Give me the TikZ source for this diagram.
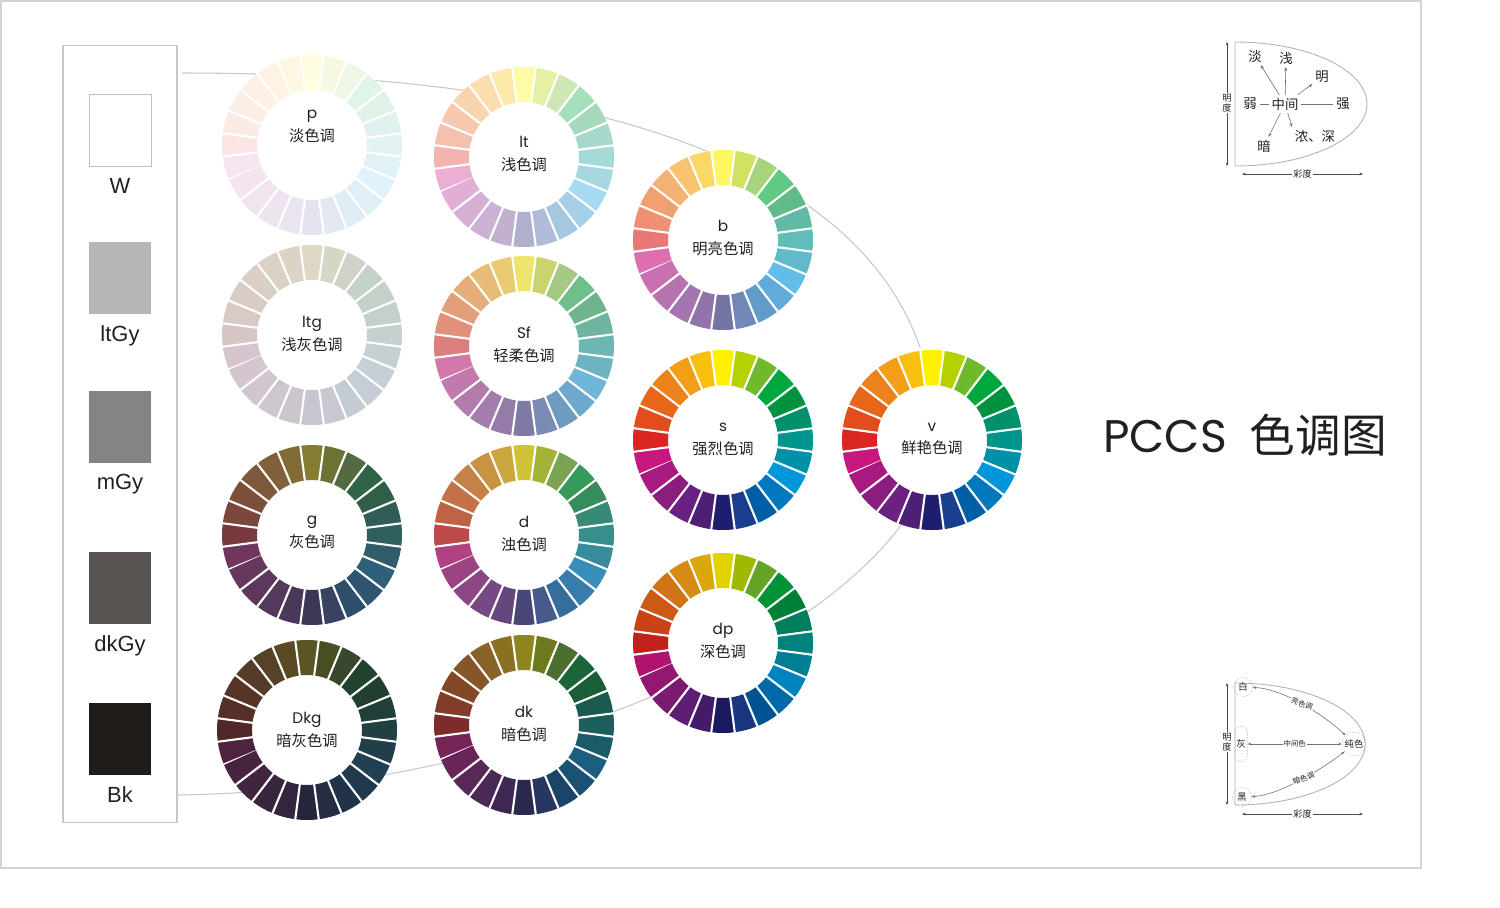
\documentclass[tikz,border=0pt]{standalone}
\usepackage{fontspec}
\setmainfont{Noto Sans CJK SC}
\newfontfamily\lat{Poppins}
\newfontfamily\chipfont{Liberation Sans}
\usetikzlibrary{arrows.meta,positioning}
\definecolor{v1}{HTML}{C8177F}\definecolor{v2}{HTML}{DA2520}\definecolor{v3}{HTML}{E34D1B}\definecolor{v4}{HTML}{E8661A}
\definecolor{v5}{HTML}{EC821B}\definecolor{v6}{HTML}{F39E17}\definecolor{v7}{HTML}{F8BF0C}\definecolor{v8}{HTML}{FFF000}
\definecolor{v9}{HTML}{B5D100}\definecolor{v10}{HTML}{6FBA2C}\definecolor{v11}{HTML}{00A73C}\definecolor{v12}{HTML}{00923F}
\definecolor{v13}{HTML}{00906A}\definecolor{v14}{HTML}{00958D}\definecolor{v15}{HTML}{0090A8}\definecolor{v16}{HTML}{0096DA}
\definecolor{v17}{HTML}{0078C0}\definecolor{v18}{HTML}{005EA7}\definecolor{v19}{HTML}{1B3F8E}\definecolor{v20}{HTML}{1E1E6E}
\definecolor{v21}{HTML}{4D1F77}\definecolor{v22}{HTML}{6A2181}\definecolor{v23}{HTML}{8B1D7F}\definecolor{v24}{HTML}{A81A80}
\definecolor{ink}{HTML}{231F20}
\definecolor{rule}{HTML}{D3D3D3}
\definecolor{ltgbase}{HTML}{D8D6D6}
\definecolor{sfbase}{HTML}{DCD8D8}
\definecolor{dbase}{HTML}{8A8388}
\definecolor{gbase}{HTML}{8A8490}
\definecolor{dkbase}{HTML}{6E6A74}
\definecolor{dkgbase}{HTML}{5C5660}
\tikzset{
frame/.style={draw=rule,line width=1.1pt},
outline/.style={draw=black!22,line width=0.6pt},
panel/.style={draw=black!22,line width=0.6pt,minimum width=2.28cm,minimum height=15.54cm},
chip/.style={minimum width=1.24cm,minimum height=1.44cm,inner sep=0pt},
chiplabel/.style={text=ink,font=\chipfont\fontsize{12.5}{14}\selectfont},
ring/.style={line width=0.7cm},
gap/.style={draw=white,line width=0.042cm},
tonelabel/.style={align=center,text=ink,font=\fontsize{8.7}{13}\selectfont},
hint/.style={text=ink,inner sep=1.5pt,font=\fontsize{7.6}{9}\selectfont},
ray/.style={draw=black!55,line width=0.35pt,-{Stealth[length=2.2pt,width=1.8pt]}},
spoke/.style={draw=black!55,line width=0.35pt},
dshape/.style={draw=black!30,line width=0.5pt},
axis/.style={draw=black!70,line width=0.35pt,{Stealth[length=2pt,width=1.6pt]}-{Stealth[length=2pt,width=1.6pt]}},
axislabel/.style={fill=white,inner sep=0.6pt,text=ink,align=center,font=\fontsize{5.2}{6}\selectfont},
spot/.style={circle,draw=black!25,dash pattern=on 1pt off 0.8pt,line width=0.3pt,inner sep=0pt,text=ink,font=\fontsize{5.3}{6}\selectfont},
capsule/.style={draw=black!25,dash pattern=on 1pt off 0.8pt,line width=0.3pt,rounded corners=0.12cm,minimum width=0.26cm,minimum height=0.7cm,inner sep=0pt,text=ink,font=\fontsize{5.3}{6}\selectfont},
twoway/.style={draw=black!55,line width=0.35pt,{Stealth[length=2pt,width=1.6pt]}-{Stealth[length=2pt,width=1.6pt]}},
arclabel/.style={fill=white,inner sep=0.5pt,text=ink,font=\fontsize{4.2}{5}\selectfont},
title/.style={text=ink,font=\fontsize{26}{30}\selectfont}
}
\newcommand{\tonewheel}[3]{%
\fill[white] (#1,#2) circle[radius=90];
\foreach \i in {1,...,24}{
\draw[ring,color=v\i#3] (#1,#2) ++({15*\i-217.5}:72.5) arc[start angle={15*\i-217.5},end angle={15*\i-202.5},radius=72.5];
\draw[gap] (#1,#2) ++({15*\i-217.5}:53) -- ++({15*\i-217.5}:40);
}}

\begin{document}
\begin{tikzpicture}[x=0.02cm,y=-0.02cm,node distance=3pt]
\useasboundingbox (0,0) rectangle (1500,907);
\draw[frame] (1,1) rectangle (1421,868);
\coordinate (wend) at (182,73);
\coordinate (vtip) at (935,440);
\coordinate (bkend) at (177,795);
\draw[outline] (wend) .. controls (671,73) and (935,201) .. (vtip) .. controls (930,600) and (560,790) .. (bkend);

\node[panel] (greys) at (120,434) {};
\node[chip,draw=black!25] (wchip) at (120,130.5) {};
\node[chiplabel,below=of wchip] (wname) {W};
\node[chip,fill={rgb,255:red,183;green,182;blue,180}] (ltgychip) at (120,278) {};
\node[chiplabel,below=of ltgychip] (ltgyname) {ltGy};
\node[chip,fill={rgb,255:red,133;green,131;blue,132}] (mgychip) at (120,426.5) {};
\node[chiplabel,below=of mgychip] (mgyname) {mGy};
\node[chip,fill={rgb,255:red,90;green,85;blue,83}] (dkgychip) at (120,588) {};
\node[chiplabel,below=of dkgychip] (dkgyname) {dkGy};
\node[chip,fill={rgb,255:red,33;green,28;blue,25}] (bkchip) at (120,739) {};
\node[chiplabel,below=of bkchip] (bkname) {Bk};

\tonewheel{312}{145}{!12!white}
\node[tonelabel] (pale) at (312,126) {{\lat p}\\淡色调};
\tonewheel{524}{157}{!35!white}
\node[tonelabel] (light) at (524,154) {{\lat lt}\\浅色调};
\tonewheel{723}{240}{!62!white}
\node[tonelabel] (bright) at (723,238) {{\lat b}\\明亮色调};
\tonewheel{312}{335}{!9!ltgbase}
\node[tonelabel] (ltgrayish) at (312,334) {{\lat ltg}\\浅灰色调};
\tonewheel{524}{346}{!50!sfbase}
\node[tonelabel] (soft) at (524,345) {{\lat Sf}\\轻柔色调};
\tonewheel{723}{440}{}
\node[tonelabel] (strong) at (723,439) {{\lat s}\\强烈色调};
\tonewheel{932}{440}{}
\node[tonelabel] (vivid) at (932,439) {{\lat v}\\鲜艳色调};
\tonewheel{312}{535}{!50!black!65!gbase}
\node[tonelabel] (grayish) at (312,532) {{\lat g}\\灰色调};
\tonewheel{524}{535}{!60!dbase}
\node[tonelabel] (dull) at (524,534) {{\lat d}\\浊色调};
\tonewheel{723}{643}{!88!black}
\node[tonelabel] (deep) at (723,641) {{\lat dp}\\深色调};
\tonewheel{307}{730}{!35!black!65!dkgbase}
\node[tonelabel] (dkgrayish) at (307,730) {{\lat Dkg}\\暗灰色调};
\tonewheel{524}{725}{!60!black!75!dkbase}
\node[tonelabel] (dark) at (524,724) {{\lat dk}\\暗色调};

\node[title] (heading) at (1245,435) {{\lat PCCS}\hspace{0.5em}色调图};

\draw[dshape] (1235,42) arc[start angle=-90,end angle=90,x radius=132,y radius=62] -- cycle;
\coordinate (lumtop) at (1227,42);
\coordinate (lumbot) at (1227,166);
\draw[axis] (lumtop) -- (lumbot);
\node[axislabel] (lumname) at (1227,103) {明\\度};
\coordinate (chrl) at (1242,174);
\coordinate (chrr) at (1363,174);
\draw[axis] (chrl) -- node[axislabel] (chrname) {彩度} (chrr);
\node[hint] (mid) at (1285,104) {中间};
\node[hint] (dan) at (1255,56) {淡};
\node[hint] (qian) at (1286,58) {浅};
\node[hint] (ming) at (1322,77) {明};
\node[hint] (ruo) at (1250,104) {弱};
\node[hint] (qiang) at (1343,104) {强};
\node[hint] (an) at (1264,146) {暗};
\node[hint] (nong) at (1315,136) {浓、深};
\draw[ray] (mid) -- (dan);
\draw[ray] (mid) -- (qian);
\draw[ray] (mid) -- (ming);
\draw[ray] (mid) -- (an);
\draw[ray] (mid) -- (nong.north west);
\draw[spoke] (mid) -- (ruo);
\draw[spoke] (mid) -- (qiang);

\draw[dshape] (1235,683) arc[start angle=-90,end angle=90,x radius=130,y radius=61] -- cycle;
\coordinate (lumtop2) at (1227,683);
\coordinate (lumbot2) at (1227,805);
\draw[axis] (lumtop2) -- (lumbot2);
\node[axislabel] (lumname2) at (1227,742) {明\\度};
\coordinate (chrl2) at (1242,814);
\coordinate (chrr2) at (1363,814);
\draw[axis] (chrl2) -- node[axislabel] (chrname2) {彩度} (chrr2);
\node[spot,minimum size=0.38cm] (wht) at (1243,687) {白};
\node[spot,minimum size=0.38cm] (blk) at (1242,797) {黑};
\node[capsule] (gry) at (1241,744) {灰};
\node[spot,minimum size=0.48cm] (pure) at (1354,744) {纯色};
\draw[twoway] (wht) .. controls +(45,2) and +(-22,-22) .. node[arclabel,pos=0.45,rotate=-20] (brighttone) {亮色调} (pure);
\draw[twoway] (gry) -- node[arclabel] (midtone) {中间色} (pure);
\draw[twoway] (blk) .. controls +(40,-2) and +(-25,20) .. node[arclabel,pos=0.5,rotate=20] (darktone) {暗色调} (pure);
\end{tikzpicture}
\end{document}
